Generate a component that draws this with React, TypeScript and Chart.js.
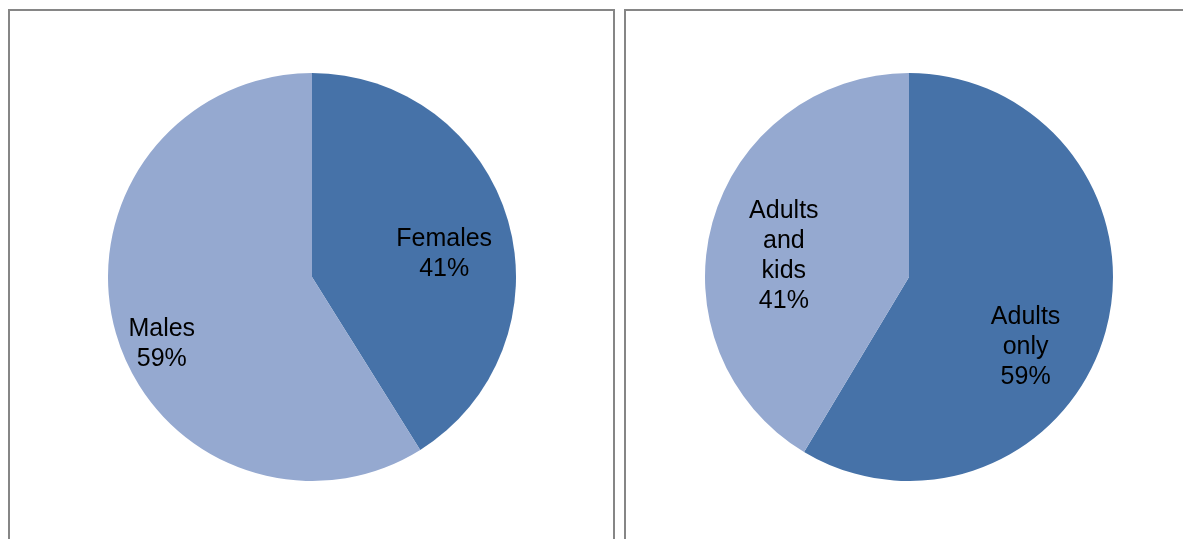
import React, { useEffect, useRef } from "react";
import { Chart, registerables } from "chart.js";

Chart.register(...registerables);

const genderLabels = ["Females", "Males"];
const genderValues = [41.1, 58.9];
const groupLabels = ["Adults only", "Adults and kids"];
const groupValues = [58.6, 41.4];

const DARK = "#4672A8";
const LIGHT = "#95A9D0";

// label placement: polar position relative to pie centre (degrees clockwise from top, fraction of radius)
const genderPlacement = [
  { angle: 79, frac: 0.66, lines: ["Females"] },
  { angle: 247, frac: 0.8, lines: ["Males"] },
];
const groupPlacement = [
  { angle: 120, frac: 0.66, lines: ["Adults", "only"] },
  { angle: 281, frac: 0.625, lines: ["Adults", "and", "kids"] },
];

const labelPlugin = {
  id: "sliceLabels",
  afterDatasetsDraw(chart: any, _args: any, opts: any) {
    const meta = chart.getDatasetMeta(0);
    const values: number[] = chart.data.datasets[0].data;
    const ctx = chart.ctx;
    const placement = opts.placement || [];
    ctx.save();
    ctx.fillStyle = "#000";
    ctx.font = "25px 'Liberation Sans', Arial, sans-serif";
    ctx.textAlign = "center";
    ctx.textBaseline = "middle";
    meta.data.forEach((arc: any, i: number) => {
      const p = placement[i];
      if (!p) return;
      const lines = [...p.lines, Math.round(values[i]) + "%"];
      const r = arc.outerRadius * p.frac;
      const a = (p.angle * Math.PI) / 180;
      const cx = arc.x + r * Math.sin(a);
      const cy = arc.y - r * Math.cos(a) + 3;
      const n = lines.length;
      const lh = 30;
      lines.forEach((t: string, j: number) => {
        ctx.fillText(t, cx, cy + (j - (n - 1) / 2) * lh);
      });
    });
    ctx.restore();
  },
};

function PieCanvas(props: {
  labels: string[];
  values: number[];
  colors: string[];
  placement: any[];
  left: number;
  top: number;
}) {
  const ref = useRef<HTMLCanvasElement>(null);
  useEffect(() => {
    if (!ref.current) return;
    const chart = new Chart(ref.current, {
      type: "pie",
      data: {
        labels: props.labels,
        datasets: [
          {
            data: props.values,
            backgroundColor: props.colors,
            borderColor: props.colors,
            borderWidth: 0,
          },
        ],
      },
      options: {
        responsive: false,
        animation: false,
        layout: { padding: 0 },
        plugins: {
          legend: { display: false },
          tooltip: { enabled: false },
          sliceLabels: { placement: props.placement },
        } as any,
      },
      plugins: [labelPlugin],
    });
    return () => chart.destroy();
  }, []);
  return (
    <canvas
      ref={ref}
      width={408}
      height={408}
      style={{ position: "absolute", left: props.left, top: props.top, width: 408, height: 408 }}
    />
  );
}

export default function App() {
  const panel = (left: number, width: number): React.CSSProperties => ({
    position: "absolute",
    left,
    top: 9,
    width,
    height: 620,
    border: "2px solid #868686",
    boxSizing: "border-box",
    background: "#fff",
  });
  return (
    <div
      style={{
        position: "absolute",
        left: 0,
        top: 0,
        width: 1183,
        height: 539,
        overflow: "hidden",
        background: "#fff",
      }}
    >
      <div style={panel(8, 607)} />
      <div style={panel(624, 700)} />
      <PieCanvas
        labels={genderLabels}
        values={genderValues}
        colors={[DARK, LIGHT]}
        placement={genderPlacement}
        left={108}
        top={73}
      />
      <PieCanvas
        labels={groupLabels}
        values={groupValues}
        colors={[DARK, LIGHT]}
        placement={groupPlacement}
        left={705}
        top={73}
      />
    </div>
  );
}
